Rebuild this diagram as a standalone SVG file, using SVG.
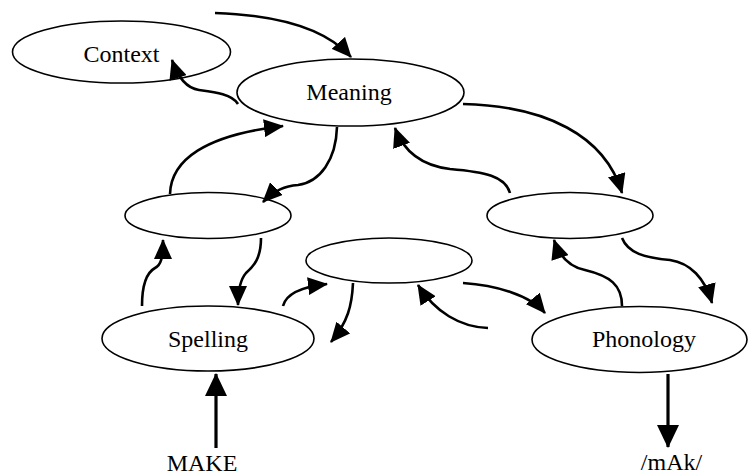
<svg xmlns="http://www.w3.org/2000/svg" width="749" height="476" viewBox="0 0 749 476">
<style>
.node ellipse{fill:#fff;stroke:#000;stroke-width:1.6}
text{font-family:"Liberation Serif","Times New Roman",serif;font-size:24px;fill:#000;text-anchor:middle}
.c path{fill:none;stroke:#000;stroke-width:2.6;marker-end:url(#ah)}
.c path.big{stroke-width:3.2;marker-end:url(#ahL)}
</style>
<defs>
<marker id="ah" markerWidth="20" markerHeight="18" refX="19" refY="9" orient="auto" markerUnits="userSpaceOnUse"><path d="M0,0 L20,9 L0,18 z" fill="#000"/></marker>
<marker id="ahL" markerWidth="23" markerHeight="22" refX="22" refY="11" orient="auto" markerUnits="userSpaceOnUse"><path d="M0,0 L23,11 L0,22 z" fill="#000"/></marker>
</defs>
<rect width="749" height="476" fill="#fff"/>
<g id="context" class="node"><ellipse cx="121.5" cy="52" rx="109" ry="31"/><text x="121.5" y="62">Context</text></g>
<g id="meaning" class="node"><ellipse cx="350.5" cy="92.5" rx="113.5" ry="33.5"/><text x="349" y="99.5">Meaning</text></g>
<g id="left-mid" class="node"><ellipse cx="208" cy="215.5" rx="83" ry="23"/></g>
<g id="center-mid" class="node"><ellipse cx="389" cy="260.5" rx="83" ry="22.5"/></g>
<g id="right-mid" class="node"><ellipse cx="570" cy="215.5" rx="83" ry="23"/></g>
<g id="spelling" class="node"><ellipse cx="208" cy="338.5" rx="106" ry="32.5"/><text x="208" y="346.5">Spelling</text></g>
<g id="phonology" class="node"><ellipse cx="639.5" cy="339.5" rx="107.5" ry="33"/><text x="644" y="346.5">Phonology</text></g>
<g id="make"><text x="202" y="471">MAKE</text></g>
<g id="mak"><text x="671.5" y="470">/mAk/</text></g>
<g id="connectors" class="c">
<path d="M215,13 C275,15 325,28 351,57"/>
<path d="M238,104 C232,94 214,92 199,90 C186,88 178,78 172,60"/>
<path d="M170,194 C171,160 205,135 283,126"/>
<path d="M337,127 C336,160 320,182 298,185 C285,186 275,190 263,202"/>
<path d="M463,104 C545,106 605,135 622,193"/>
<path d="M510,193 C505,176 485,172 450,169 C425,166 405,155 395,128"/>
<path d="M261,238 C261,258 254,266 246,273 C240,280 238,292 238,305"/>
<path d="M142,306 C142,285 146,273 155,268 C161,265 163,258 163,240"/>
<path d="M283,306 C286,294 300,287 327,284"/>
<path d="M353,283 C352,305 348,322 331,342"/>
<path d="M463,283 C495,285 530,295 545,313"/>
<path d="M488,328 C460,327 435,312 418,285"/>
<path d="M622,306 C622,285 610,276 585,270 C570,267 560,258 554,240"/>
<path d="M622,238 C628,253 645,258 670,260 C690,263 705,278 712,303"/>
<path class="big" d="M216,448 L216,374"/>
<path class="big" d="M668,374 L668,447"/>
</g>
</svg>
